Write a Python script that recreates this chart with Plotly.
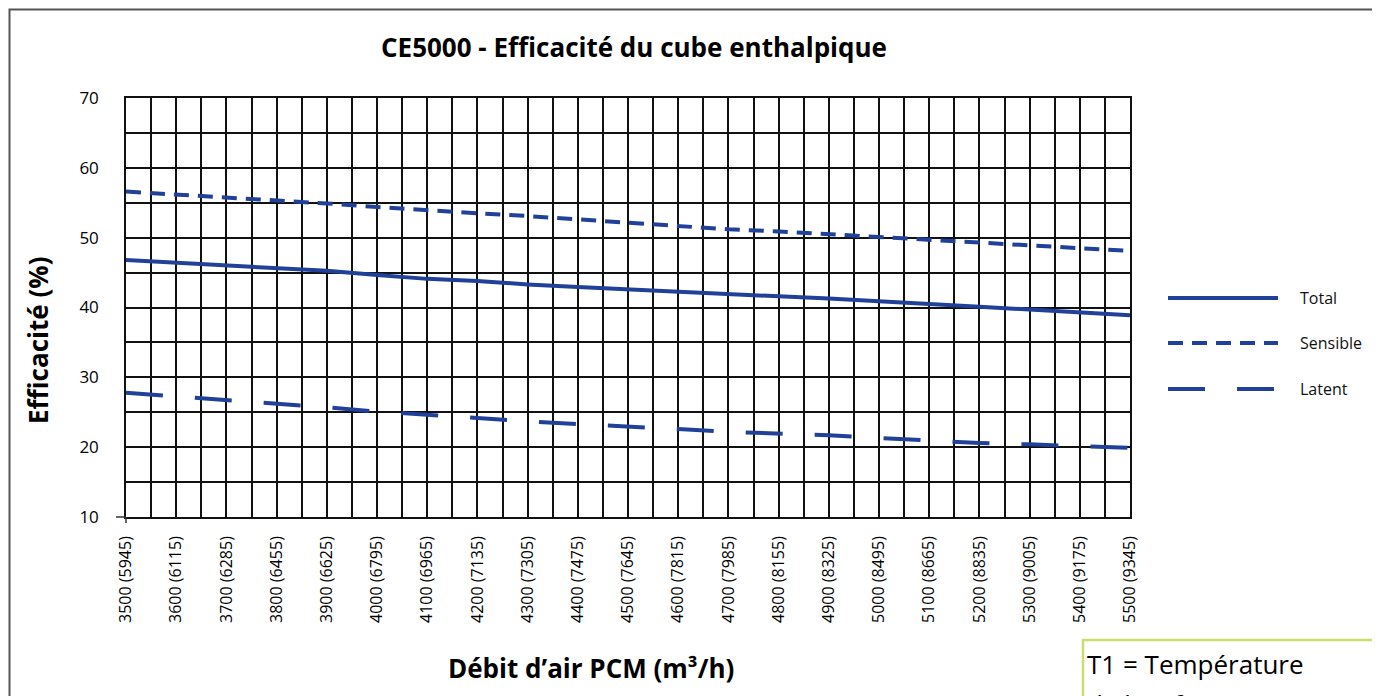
import plotly.graph_objects as go

# ---- data ----
pcm = [3500, 3600, 3700, 3800, 3900, 4000, 4100, 4200, 4300, 4400, 4500,
       4600, 4700, 4800, 4900, 5000, 5100, 5200, 5300, 5400, 5500]
m3h = [5945, 6115, 6285, 6455, 6625, 6795, 6965, 7135, 7305, 7475, 7645,
       7815, 7985, 8155, 8325, 8495, 8665, 8835, 9005, 9175, 9345]
tick_labels = [f"{a} ({b})" for a, b in zip(pcm, m3h)]

total = [46.8, 46.4, 46.05, 45.6, 45.25, 44.65, 44.1, 43.8, 43.3, 42.95, 42.6,
         42.2, 41.9, 41.6, 41.3, 40.95, 40.5, 40.1, 39.7, 39.3, 38.9]
sensible = [56.6, 56.2, 55.8, 55.4, 54.9, 54.4, 53.9, 53.5, 53.1, 52.6, 52.1,
            51.7, 51.2, 50.9, 50.5, 50.1, 49.7, 49.25, 48.9, 48.5, 48.1]
latent = [27.8, 27.3, 26.8, 26.2, 25.7, 25.1, 24.6, 24.2, 23.7, 23.3, 23.0,
          22.6, 22.2, 22.0, 21.7, 21.3, 20.9, 20.6, 20.4, 20.1, 19.9]

series_names = ["Total", "Sensible", "Latent"]
series_dash = ["solid", "15px,9px", "37px,32px"]

title = "CE5000 - Efficacité du cube enthalpique"
ytitle = "Efficacité (%)"
xtitle = "Débit d’air PCM (m³/h)"
note_lines = ["T1 = Température", "de l’air frais (°F)"]

# ---- layout geometry (page pixels; the page body adds an 8px offset) ----
OFF = 8
W, H = 1380 - OFF, 696 - OFF
PLOT_L, PLOT_R, PLOT_T, PLOT_B = 126, 1130, 98, 517  # in screenshot pixels
ML = PLOT_L - OFF
MT = PLOT_T - OFF
MR = W - (PLOT_R - OFF)
MB = H - (PLOT_B - OFF)
PW = PLOT_R - PLOT_L
PH = PLOT_B - PLOT_T


def px(x):
    return (x - PLOT_L) / PW


def py(y):
    return (PLOT_B - y) / PH


BLUE = "#21409a"
FONT = "Open Sans"

fig = go.Figure()
for name, vals, dash in zip(series_names, [total, sensible, latent], series_dash):
    fig.add_trace(go.Scatter(x=pcm, y=vals, mode="lines", name=name,
                             line=dict(color=BLUE, width=4, dash=dash),
                             showlegend=False))

shapes = []
# outer frame
shapes.append(dict(type="rect", xref="paper", yref="paper",
                   x0=px(9.5), x1=px(1377), y0=py(760), y1=py(9.5),
                   line=dict(color="#555555", width=2), fillcolor="rgba(0,0,0,0)",
                   layer="above"))
# small outer tick marks at the axis origin
shapes.append(dict(type="line", xref="paper", yref="paper",
                   x0=px(116), x1=px(126), y0=0, y1=0,
                   line=dict(color="#333", width=1.5)))
shapes.append(dict(type="line", xref="paper", yref="paper",
                   x0=0, x1=0, y0=py(517), y1=py(523),
                   line=dict(color="#333", width=1.5)))
# note box
shapes.append(dict(type="rect", xref="paper", yref="paper",
                   x0=px(1083), x1=px(1420), y0=py(760), y1=py(640),
                   line=dict(color="#c9de6c", width=2.5), fillcolor="white",
                   layer="above"))
# manual legend samples
legend_y = [298, 343, 389]
annotations = []
for name, dash, ly in zip(series_names, series_dash, legend_y):
    shapes.append(dict(type="line", xref="paper", yref="paper",
                       x0=px(1168), x1=px(1278), y0=py(ly), y1=py(ly),
                       line=dict(color=BLUE, width=4, dash=dash)))
    annotations.append(dict(xref="paper", yref="paper", x=px(1298), y=py(ly),
                            text=name, showarrow=False, xanchor="left",
                            yanchor="middle",
                            font=dict(family=FONT, size=16, color="#111")))

annotations += [
    dict(xref="paper", yref="paper", x=px(634), y=py(47), text=f"<b>{title}</b>",
         showarrow=False, xanchor="center", yanchor="middle",
         font=dict(family=FONT, size=26, color="black")),
    dict(xref="paper", yref="paper", x=px(38), y=py(341), text=f"<b>{ytitle}</b>",
         showarrow=False, textangle=-90, xanchor="center", yanchor="middle",
         font=dict(family=FONT, size=26, color="black")),
    dict(xref="paper", yref="paper", x=px(591), y=py(668), text=f"<b>{xtitle}</b>",
         showarrow=False, xanchor="center", yanchor="middle",
         font=dict(family=FONT, size=26, color="black")),
    dict(xref="paper", yref="paper", x=px(1085), y=py(664), text=note_lines[0],
         showarrow=False, xanchor="left", yanchor="middle",
         font=dict(family=FONT, size=26, color="black")),
    dict(xref="paper", yref="paper", x=px(1085), y=py(704), text=note_lines[1],
         showarrow=False, xanchor="left", yanchor="middle",
         font=dict(family=FONT, size=26, color="black")),
]

fig.update_layout(
    width=W, height=H,
    margin=dict(l=ML, r=MR, t=MT, b=MB, pad=0),
    paper_bgcolor="white", plot_bgcolor="white",
    shapes=shapes, annotations=annotations,
    xaxis=dict(range=[pcm[0], pcm[-1]], tickmode="array", tickvals=pcm,
               ticktext=tick_labels, tickangle=-90,
               tickfont=dict(family=FONT, size=16, color="black"),
               showgrid=True, gridcolor="#111", gridwidth=1.5,
               minor=dict(tickmode="linear", tick0=pcm[0], dtick=50,
                          showgrid=True, gridcolor="#111", gridwidth=1.5),
               showline=True, linecolor="#111", linewidth=1.5, mirror=True,
               zeroline=False, ticks="outside", ticklen=11, tickcolor="rgba(0,0,0,0)"),
    yaxis=dict(range=[10, 70], tickmode="linear", tick0=10, dtick=10,
               tickfont=dict(family=FONT, size=17, color="black"),
               showgrid=True, gridcolor="#111", gridwidth=1.5,
               minor=dict(tickmode="linear", tick0=10, dtick=5,
                          showgrid=True, gridcolor="#111", gridwidth=1.5),
               showline=True, linecolor="#111", linewidth=1.5, mirror=True,
               zeroline=False, ticks="outside", ticklen=22, tickcolor="rgba(0,0,0,0)"),
)

fig.write_html("out.html")
